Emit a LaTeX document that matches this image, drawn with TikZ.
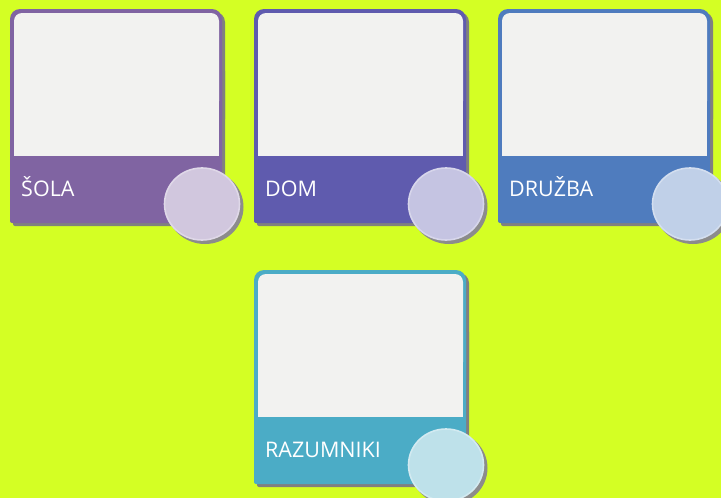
\documentclass[tikz,border=0pt]{standalone}
\usepackage{fontspec}
\setmainfont{Open Sans}
\definecolor{bgyellow}{HTML}{D4FF24}
\definecolor{paper}{HTML}{F2F2F0}
\definecolor{sola}{HTML}{8064A2}
\definecolor{dom}{HTML}{5F5BAE}
\definecolor{druzba}{HTML}{4F7CBE}
\definecolor{razum}{HTML}{4BACC6}

\begin{document}
\begin{tikzpicture}[x=1pt, y=-1pt,
    cardshadow/.style={fill=black!50},
    cardlabel/.style={anchor=base west, inner sep=0pt, text=white, font=\fontsize{21.5}{24}\selectfont}]
    % Background
    \fill[bgyellow] (0,0) rectangle (721,498);
    \useasboundingbox (0,0) rectangle (721,498);
    \clip (0,0) rectangle (721,498);

    % Cards: top left corner, colour, label
    \foreach \cx/\cy/\col/\txt in {10/9/sola/ŠOLA, 254/9/dom/DOM, 498/9/druzba/DRUŽBA, 254/270/razum/RAZUMNIKI} {
        % shadow
        \fill[cardshadow, rounded corners=10pt] (\cx+3,\cy+3) rectangle (\cx+215,\cy+120);
        \fill[cardshadow, rounded corners=2pt] (\cx+3,\cy+60) rectangle (\cx+215,\cy+217);
        % frame and label band
        \fill[\col, rounded corners=10pt] (\cx,\cy) rectangle (\cx+212,\cy+120);
        \fill[\col, rounded corners=2pt] (\cx,\cy+60) rectangle (\cx+212,\cy+214);
        % picture area
        \fill[paper, rounded corners=8pt] (\cx+4,\cy+4) rectangle (\cx+209,\cy+100);
        \fill[paper] (\cx+4,\cy+60) rectangle (\cx+209,\cy+147);
        % label
        \node[cardlabel] (lbl-\col) at (\cx+11,\cy+187) {\txt};
        % round badge
        \fill[black!45] (\cx+195,\cy+198) ellipse [x radius=38.5pt, y radius=37pt];
        \draw[\col!25!white, line width=1.6pt, fill=\col!36!white] (\cx+192,\cy+195) ellipse [x radius=37.5pt, y radius=36pt];
    }
\end{tikzpicture}
\end{document}
